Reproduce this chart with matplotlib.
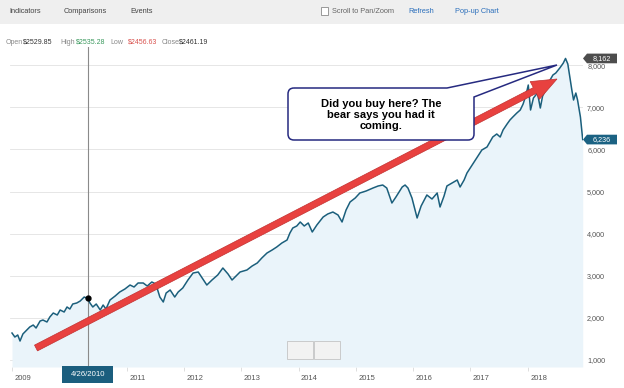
import matplotlib
matplotlib.use("Agg")
import matplotlib.pyplot as plt
import matplotlib.transforms as mtransforms
from matplotlib.patches import Rectangle, Polygon, FancyArrow, PathPatch
from matplotlib.path import Path

plt.rcParams['font.family'] = ['Liberation Sans', 'DejaVu Sans']

## -------------------- data ------------------- ##
# decimal years and index closes
years = [2009.00, 2009.05, 2009.10, 2009.14, 2009.19, 2009.26, 2009.31, 2009.37, 2009.42, 2009.49,
         2009.54, 2009.61, 2009.66, 2009.72, 2009.79, 2009.84, 2009.91, 2009.96, 2010.01, 2010.06,
         2010.13, 2010.19, 2010.26, 2010.32, 2010.36, 2010.41, 2010.47, 2010.54, 2010.59, 2010.64,
         2010.71, 2010.80, 2010.88, 2010.97, 2011.06, 2011.13, 2011.20, 2011.29, 2011.36, 2011.44,
         2011.51, 2011.58, 2011.64, 2011.69, 2011.76, 2011.84, 2011.90, 2011.98, 2012.07, 2012.16,
         2012.25, 2012.33, 2012.40, 2012.49, 2012.59, 2012.68, 2012.77, 2012.84, 2012.91, 2012.98,
         2013.10, 2013.19, 2013.28, 2013.36, 2013.45, 2013.54, 2013.62, 2013.71, 2013.80, 2013.85,
         2013.90, 2013.97, 2014.03, 2014.10, 2014.17, 2014.24, 2014.32, 2014.43, 2014.51, 2014.60,
         2014.69, 2014.76, 2014.83, 2014.90, 2014.99, 2015.07, 2015.18, 2015.30, 2015.39, 2015.47,
         2015.54, 2015.63, 2015.70, 2015.81, 2015.86, 2015.91, 2015.98, 2016.07, 2016.14, 2016.24,
         2016.33, 2016.42, 2016.47, 2016.54, 2016.59, 2016.68, 2016.77, 2016.82, 2016.89, 2016.94,
         2017.03, 2017.12, 2017.20, 2017.29, 2017.34, 2017.39, 2017.46, 2017.52, 2017.57, 2017.64,
         2017.69, 2017.74, 2017.81, 2017.87, 2017.92, 2017.97, 2018.01, 2018.05, 2018.10, 2018.17,
         2018.22, 2018.26, 2018.34, 2018.39, 2018.44, 2018.49, 2018.56, 2018.62, 2018.66, 2018.70,
         2018.77, 2018.80, 2018.84, 2018.87, 2018.92, 2018.96]
closes = [1641, 1546, 1594, 1451, 1618, 1713, 1784, 1831, 1760, 1926,
          1950, 1903, 2021, 2116, 2069, 2188, 2140, 2259, 2211, 2330,
          2354, 2401, 2496, 2461, 2354, 2259, 2330, 2188, 2306, 2211,
          2425, 2520, 2615, 2686, 2781, 2734, 2829, 2829, 2757, 2853,
          2805, 2496, 2378, 2591, 2663, 2496, 2615, 2710, 2900, 3066,
          3090, 2924, 2781, 2900, 3019, 3185, 3043, 2900, 2995, 3090,
          3138, 3232, 3304, 3423, 3541, 3613, 3684, 3779, 3850, 4016,
          4135, 4183, 4278, 4183, 4254, 4040, 4206, 4396, 4468, 4515,
          4444, 4278, 4563, 4753, 4848, 4966, 5014, 5085, 5133, 5156,
          5085, 4729, 4871, 5109, 5156, 5085, 4848, 4373, 4658, 4919,
          4824, 4966, 4634, 4895, 5133, 5204, 5275, 5109, 5275, 5441,
          5631, 5821, 5988, 6059, 6178, 6296, 6368, 6296, 6463, 6605,
          6700, 6771, 6866, 6938, 7080, 7294, 7531, 6938, 7223, 7341,
          6985, 7270, 7484, 7650, 7769, 7816, 7935, 8050, 8162, 8030,
          7413, 7175, 7341, 7175, 6771, 6236]

year_ticks = [2009, 2010, 2011, 2012, 2013, 2014, 2015, 2016, 2017, 2018]
# 2010 sits under the cursor date box, so the chart shows no label there
year_labels = ["2009", "", "2011", "2012", "2013", "2014", "2015", "2016", "2017", "2018"]
value_ticks = [1000, 2000, 3000, 4000, 5000, 6000, 7000, 8000]

cursor_date = 2010.32
cursor_label = "4/26/2010"
cursor_close = 2461.19
ohlc_labels = ["Open", "High", "Low", "Close"]
ohlc_values = [2529.85, 2535.28, 2456.63, 2461.19]
toolbar_left = ["Indicators", "Comparisons", "Events"]
callout_text = "Did you buy here? The\nbear says you had it\ncoming."

LINE = '#1b5f7c'
FILL = '#eaf4fa'

## -------------------- figure ------------------- ##
fig = plt.figure(figsize=(6.24, 3.88), dpi=100)
fig.patch.set_facecolor('white')

# price panel
ax = fig.add_axes([10 / 624, 21 / 388, 573 / 624, 320 / 388], zorder=2)
ax.set_xlim(2008.965, 2018.965)
ax.set_ylim(834, 8434)
ax.fill_between(years, closes, 834, color=FILL, lw=0, zorder=1)
ax.plot(years, closes, color=LINE, lw=1.1, zorder=3)
ax.axvline(cursor_date, color='#8a8a8a', lw=0.8, zorder=2)
ax.plot([cursor_date], [cursor_close], 'o', color='black', ms=3.5, zorder=4)

ax.set_yticks(value_ticks)
ax.set_yticklabels([f"{v:,}" for v in value_ticks])
ax.yaxis.tick_right()
ax.tick_params(axis='y', length=0, pad=3, labelsize=5.2, labelcolor='#555555')
ax.grid(axis='y', color='#e2e2e2', lw=0.6, zorder=0)
ax.set_axisbelow(True)

ax.set_xticks(year_ticks)
ax.set_xticklabels(year_labels, ha='left')
ax.tick_params(axis='x', length=3, color='#d8d8d8', width=0.6, pad=3,
               labelsize=5.5, labelcolor='#555555')
offset = mtransforms.ScaledTranslation(2.5 / 100, 0, fig.dpi_scale_trans)
for lab in ax.get_xticklabels():
    lab.set_transform(lab.get_transform() + offset)
for s in ax.spines.values():
    s.set_visible(False)

# overlay in pixel coordinates
ov = fig.add_axes([0, 0, 1, 1], zorder=5)
ov.set_xlim(0, 624)
ov.set_ylim(388, 0)
ov.axis('off')
ov.patch.set_alpha(0)

# toolbar
ov.add_patch(Rectangle((0, 0), 624, 24, fc='#efefef', ec='none'))
for txt, x in zip(toolbar_left, [9, 64, 130]):
    ov.text(x, 11.5, txt, fontsize=5.3, color='#444444', va='center')
ov.add_patch(Rectangle((321, 7), 7, 7.5, fc='white', ec='#8a8a8a', lw=0.6))
ov.text(332, 11.5, "Scroll to Pan/Zoom", fontsize=5.3, color='#666666', va='center')
ov.text(408, 11.5, "Refresh", fontsize=5.3, color='#2a6ebb', va='center')
ov.text(455, 11.5, "Pop-up Chart", fontsize=5.3, color='#2a6ebb', va='center')

# open / high / low / close readout
val_colors = ['#333333', '#3c9a5f', '#d9534f', '#333333']
for lab, val, col, xl, xv in zip(ohlc_labels, ohlc_values, val_colors,
                                 [6, 60, 110, 162], [23, 76, 128, 179]):
    ov.text(xl, 42, lab, fontsize=5.0, color='#888888', va='center')
    ov.text(xv, 42, f"${val:.2f}", fontsize=5.0, color=col, va='center')

# cursor date box (x in data years, y in pixels)
tx = mtransforms.blended_transform_factory(ax.transData, ov.transData)
ov.add_patch(Rectangle((cursor_date - 0.44, 366), 0.88, 17, transform=tx,
                       fc='#1b5e7e', ec='none', clip_on=False))
ov.text(cursor_date, 375, cursor_label, transform=tx, fontsize=5.6,
        color='white', ha='center', va='center')

# value tags on the right (x in pixels, y in data values)
ty = mtransforms.blended_transform_factory(ov.transData, ax.transData)
for v, col in [(max(closes), '#4d4d4d'), (closes[-1], '#1b6283')]:
    ov.add_patch(Polygon([(583, v), (587, v + 115), (617, v + 115), (617, v - 115), (587, v - 115)],
                         closed=True, transform=ty, fc=col, ec='none', clip_on=False))
    ov.text(602, v, f"{v:,}", transform=ty, fontsize=5.2, color='white',
            ha='center', va='center')

# zoom handle
ov.add_patch(Rectangle((287, 341), 26, 18, fc='#f2f2f2', ec='#c4c4c4', lw=0.6))
ov.add_patch(Rectangle((314, 341), 26, 18, fc='#f2f2f2', ec='#c4c4c4', lw=0.6))

# red arrow
ov.add_patch(FancyArrow(36, 348, 521, -269, width=6.5, head_width=20, head_length=25,
                        length_includes_head=True, fc='#e8413f', ec='#c23030', lw=0.5))

# callout with tail pointing at the peak
verts = [(294, 88), (447, 88), (557, 65), (474, 97), (474, 134), (474, 140), (468, 140),
         (294, 140), (288, 140), (288, 134), (288, 94), (288, 88), (294, 88)]
codes = [Path.MOVETO, Path.LINETO, Path.LINETO, Path.LINETO, Path.LINETO, Path.CURVE3, Path.CURVE3,
         Path.LINETO, Path.CURVE3, Path.CURVE3, Path.LINETO, Path.CURVE3, Path.CURVE3]
ov.add_patch(PathPatch(Path(verts, codes), fc='white', ec='#262a80', lw=1.1))
ov.text(381, 115, callout_text, fontsize=8.0, fontweight='bold', color='black',
        ha='center', va='center', linespacing=1.17)

fig.savefig('out.png', dpi=100)
